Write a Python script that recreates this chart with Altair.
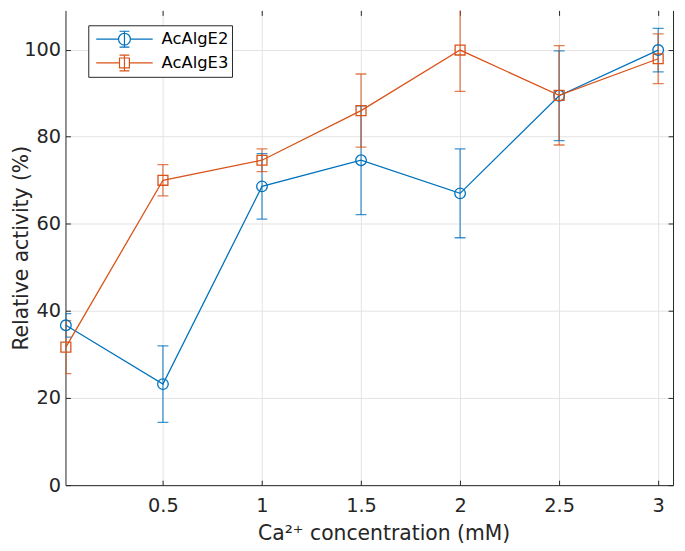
import altair as alt
import pandas as pd

# ---- data ----
conc = [0.01, 0.5, 1, 1.5, 2, 2.5, 3]
e2_mean = [36.7, 23.2, 68.6, 74.6, 67.0, 89.4, 99.9]
e2_err = [2.7, 8.8, 7.5, 12.5, 10.2, 10.3, 5.0]
e3_mean = [31.7, 70.0, 74.6, 86.0, 99.9, 89.5, 97.9]
e3_err = [6.1, 3.6, 2.6, 8.4, 9.5, 11.4, 5.7]
series_names = ["AcAlgE2", "AcAlgE3"]
series_colors = ["#0072BD", "#D95319"]
x_ticks = [0.5, 1, 1.5, 2, 2.5, 3]
y_ticks = [0, 20, 40, 60, 80, 100]

rows = []
for name, means, errs in zip(series_names, [e2_mean, e3_mean], [e2_err, e3_err]):
    for xv, m, e in zip(conc, means, errs):
        rows.append({"conc": xv, "activity": m, "lo": m - e, "hi": m + e, "series": name})
df = pd.DataFrame(rows)

FONT = "DejaVu Sans"
DARK = "#262626"

xs = alt.Scale(domain=[0.008, 3.075], nice=False, zero=False)
ys = alt.Scale(domain=[0, 109], nice=False, zero=False)
cs = alt.Scale(domain=series_names, range=series_colors)

# legend symbols: line + marker + error bar (closed shapes drawn twice in
# opposite directions so that any fill cancels out and only the outline shows)
bar_part = "M0,-0.28L0,0.28M-0.175,-0.28L0.175,-0.28M-0.175,0.28L0.175,0.28"
p_circle = ("M-1,0L-0.21,0M0.21,0L1,0"
            "M-0.21,0A0.21,0.21,0,1,0,0.21,0A0.21,0.21,0,1,0,-0.21,0Z"
            "M-0.21,0A0.21,0.21,0,1,1,0.21,0A0.21,0.21,0,1,1,-0.21,0Z" + bar_part)
p_square = ("M-1,0L-0.175,0M0.175,0L1,0"
            "M-0.175,-0.175L0.175,-0.175L0.175,0.175L-0.175,0.175Z"
            "M-0.175,-0.175L-0.175,0.175L0.175,0.175L0.175,-0.175Z" + bar_part)

base = alt.Chart(df)
col = alt.Color("series:N", scale=cs, legend=None)

leg_def = alt.Legend(
    title=None, orient="none", legendX=23, legendY=15,
    padding=3, symbolOffset=4, labelOffset=8, clipHeight=22, rowPadding=2,
    symbolSize=3249, symbolStrokeWidth=1.2,
    symbolOpacity=1,
    labelFont=FONT, labelFontSize=16.5, labelColor="black",
    strokeColor=DARK, fillColor="white",
)

legend_layer = base.mark_point(
    size=3249, filled=False, strokeWidth=1.2, opacity=1).encode(
    x=alt.X("conc:Q", scale=xs, axis=None),
    y=alt.Y("activity:Q", scale=ys, axis=None),
    stroke=alt.Stroke("series:N", scale=cs, legend=leg_def),
    shape=alt.Shape("series:N", scale=alt.Scale(domain=series_names, range=[p_circle, p_square]),
                    legend=leg_def),
).transform_filter("false")

# error bar stems + main axes (labels, grid, domain)
rules = base.mark_rule(strokeWidth=1.3, opacity=0.75, clip=True).encode(
    x=alt.X("conc:Q", scale=xs,
            axis=alt.Axis(orient="bottom", values=x_ticks, format="~g", tickSize=0, labelPadding=12,
                          grid=True, title="Ca²⁺ concentration (mM)", titlePadding=8, titleX=321)),
    y=alt.Y("lo:Q", scale=ys,
            axis=alt.Axis(orient="left", values=y_ticks, format="d", tickSize=0, labelPadding=5,
                          grid=True, title="Relative activity (%)", titleX=-34)),
    y2="hi:Q",
    color=col,
)

# lower caps + inward ticks on bottom/left
caps_lo = base.mark_tick(orient="horizontal", size=11, thickness=1.3, opacity=0.75, clip=True).encode(
    x=alt.X("conc:Q", scale=xs,
            axis=alt.Axis(orient="bottom", values=x_ticks, offset=-5, tickSize=5, labels=False,
                          domain=False, grid=False, title=None)),
    y=alt.Y("lo:Q", scale=ys,
            axis=alt.Axis(orient="left", values=y_ticks, offset=-5, tickSize=5, labels=False,
                          domain=False, grid=False, title=None)),
    color=col,
)

# upper caps + inward ticks on top/right
caps_hi = base.mark_tick(orient="horizontal", size=11, thickness=1.3, opacity=0.75, clip=True).encode(
    x=alt.X("conc:Q", scale=xs,
            axis=alt.Axis(orient="top", values=x_ticks, offset=-5, tickSize=5, labels=False,
                          domain=False, grid=False, title=None)),
    y=alt.Y("hi:Q", scale=ys,
            axis=alt.Axis(orient="right", values=y_ticks, offset=-5, tickSize=5, labels=False,
                          domain=False, grid=False, title=None)),
    color=col,
)

# connecting lines + right frame line
lines = base.mark_line(strokeWidth=1.3).encode(
    x=alt.X("conc:Q", scale=xs, axis=None),
    y=alt.Y("activity:Q", scale=ys,
            axis=alt.Axis(orient="right", ticks=False, labels=False, grid=False,
                          domain=True, title=None)),
    color=col,
    detail="series:N",
)

circles = base.transform_filter(alt.datum.series == series_names[0]).mark_point(
    shape="circle", size=115, filled=False, strokeWidth=1.3, opacity=1).encode(
    x=alt.X("conc:Q", scale=xs, axis=None),
    y=alt.Y("activity:Q", scale=ys, axis=None),
    color=col,
)

squares = base.transform_filter(alt.datum.series == series_names[1]).mark_point(
    shape="square", size=100, filled=False, strokeWidth=1.3, opacity=1).encode(
    x=alt.X("conc:Q", scale=xs, axis=None),
    y=alt.Y("activity:Q", scale=ys, axis=None),
    color=col,
)

chart = alt.layer(legend_layer, rules, caps_lo, caps_hi, lines, circles, squares).resolve_axis(
    x="independent", y="independent"
).properties(
    width=613, height=479,
    autosize=alt.AutoSizeParams(type="none"),
    padding={"left": 58, "top": 0, "right": 4, "bottom": 64},
    background="white",
).configure_view(stroke=None).configure_axis(
    labelFont=FONT, labelFontSize=19.5, labelColor=DARK,
    titleFont=FONT, titleFontSize=20.5, titleFontWeight="normal", titleColor=DARK,
    domainColor=DARK, domainWidth=1, tickColor=DARK, tickWidth=1,
    gridColor="#e3e3e3", gridWidth=1,
).configure_legend(strokeWidth=1)

chart.save("out.html", embed_options={"renderer": "svg", "actions": False})
